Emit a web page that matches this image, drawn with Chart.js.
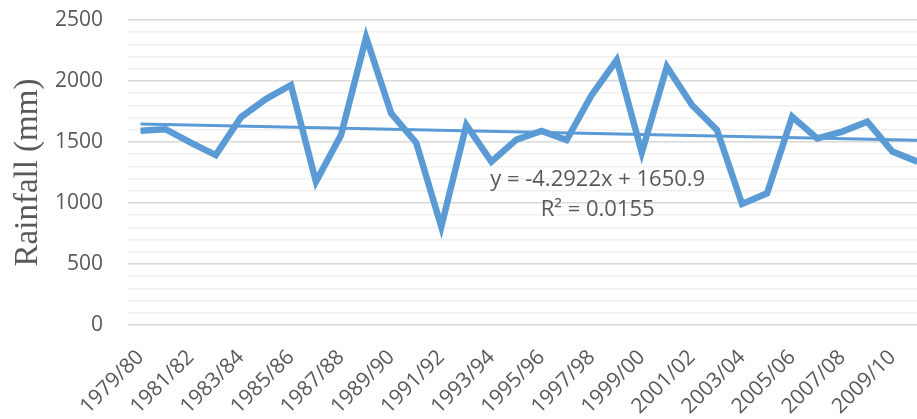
<!DOCTYPE html>
<html>
<head>
<meta charset="utf-8">
<script src="https://cdn.jsdelivr.net/npm/chart.js@4"></script>
<style>
  html, body { margin: 0; padding: 0; background: #fff; overflow: hidden; }
  #wrap { width: 942px; height: 419px; }
</style>
</head>
<body>
<div id="wrap"><canvas id="rainChart" width="942" height="419"></canvas></div>
<script>
// rainfall per season (last one cut at the right edge)
const seasons = [
  "1979/80", "1980/81", "1981/82", "1982/83", "1983/84", "1984/85", "1985/86", "1986/87",
  "1987/88", "1988/89", "1989/90", "1990/91", "1991/92", "1992/93", "1993/94", "1994/95",
  "1995/96", "1996/97", "1997/98", "1998/99", "1999/00", "2000/01", "2001/02", "2002/03",
  "2003/04", "2004/05", "2005/06", "2006/07", "2007/08", "2008/09", "2009/10", "2010/11"
];
const rainfall = [
  1593, 1605, 1494, 1393, 1702, 1852, 1967, 1175,
  1557, 2358, 1735, 1494, 806, 1639, 1339, 1520,
  1590, 1516, 1885, 2172, 1413, 2117, 1803, 1598,
  992, 1079, 1707, 1530, 1585, 1667, 1421, 1339
];
// linear trend end values (first and last season)
const trendEnds = [1646.6, 1513.5];
const trendLabel = ["y = -4.2922x + 1650.9", "R\u00B2 = 0.0155"];
const yTicks = [0, 500, 1000, 1500, 2000, 2500];

const lastIdx = seasons.length - 1;
const trendData = seasons.map((_, i) => (i === 0 ? trendEnds[0] : i === lastIdx ? trendEnds[1] : null));

const BLUE = "#5B9BD5";
const GREY_TEXT = "#595959";

const equationPlugin = {
  id: "equation",
  afterDatasetsDraw(chart) {
    const { ctx, scales } = chart;
    const x = scales.x.getPixelForValue(18.24);
    ctx.save();
    ctx.fillStyle = GREY_TEXT;
    ctx.font = "22px 'Open Sans'";
    ctx.textAlign = "center";
    ctx.textBaseline = "middle";
    ctx.fillText(trendLabel[0], x, scales.y.getPixelForValue(1189));
    ctx.fillText(trendLabel[1], x, scales.y.getPixelForValue(943));
    ctx.restore();
  }
};

new Chart(document.getElementById("rainChart"), {
  type: "line",
  data: {
    labels: seasons,
    datasets: [
      {
        label: "Rainfall",
        data: rainfall,
        borderColor: BLUE,
        borderWidth: 6.5,
        pointRadius: 0,
        tension: 0,
        fill: false
      },
      {
        label: "Linear trend",
        data: trendData,
        spanGaps: true,
        borderColor: BLUE,
        borderWidth: 3,
        pointRadius: 0,
        fill: false
      }
    ]
  },
  options: {
    responsive: false,
    animation: false,
    layout: { padding: { top: 20, right: 12, left: 0, bottom: 0 } },
    plugins: { legend: { display: false }, tooltip: { enabled: false } },
    scales: {
      x: {
        offset: true,
        grid: { display: false, drawTicks: false },
        border: { display: false },
        ticks: {
          autoSkip: false,
          maxRotation: 45,
          minRotation: 45,
          padding: 20,
          color: GREY_TEXT,
          font: { family: "'Open Sans'", size: 21 },
          callback: (v, i) => (i % 2 === 0 ? seasons[i] : "")
        },
        afterFit: (s) => {
          s.height = 94;
          s.paddingLeft = 0;
          s.paddingRight = 0;
        }
      },
      y: {
        min: 0,
        max: 2500,
        border: { display: false },
        grid: {
          drawTicks: false,
          lineWidth: 1.5,
          color: (c) => (c.tick && c.tick.value % 500 === 0 ? "#D9D9D9" : "#F0F0F0")
        },
        ticks: {
          stepSize: 100,
          autoSkip: false,
          padding: 25,
          color: GREY_TEXT,
          font: { family: "'Open Sans'", size: 21 },
          callback: (v) => (yTicks.includes(v) ? v : "")
        },
        title: {
          display: true,
          text: "Rainfall (mm)",
          color: GREY_TEXT,
          font: { family: "'Liberation Serif'", size: 33 },
          padding: { top: 9, bottom: 0 }
        },
        afterFit: (s) => {
          s.width = 128;
          s.paddingTop = 0;
          s.paddingBottom = 0;
        }
      }
    }
  },
  plugins: [equationPlugin]
});
</script>
</body>
</html>
